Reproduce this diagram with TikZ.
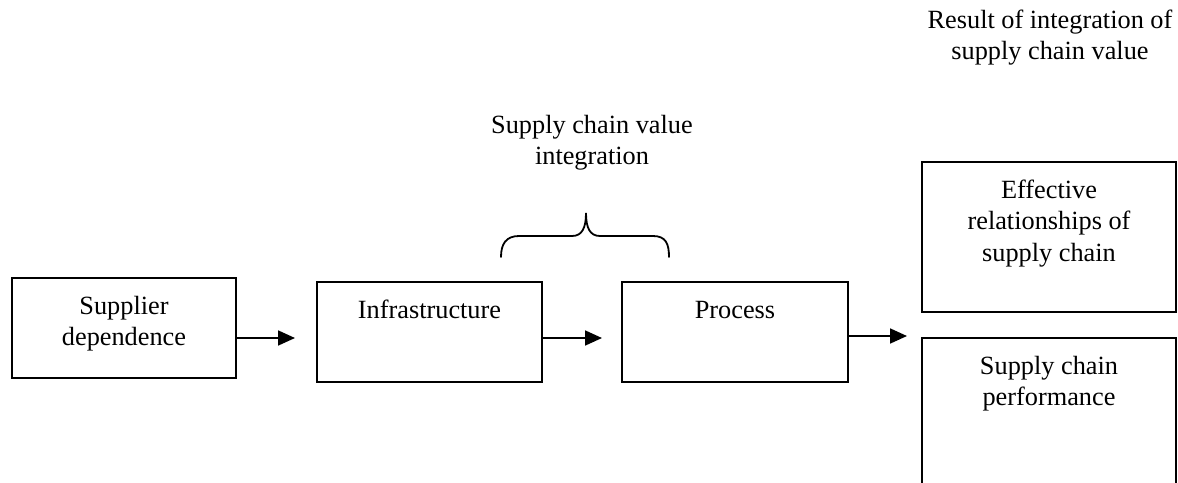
\documentclass[tikz,border=0pt]{standalone}
\usepackage{fontspec}
\setmainfont{Liberation Serif}
\usetikzlibrary{arrows.meta}
\newcommand\boxtxt[3]{\parbox[t][#2][t]{#1}{\centering\rule{0pt}{36pt}#3}}
\newcommand\freetxt[2]{\parbox[t]{#1}{\centering\rule{0pt}{26pt}#2}}
\begin{document}
\begin{tikzpicture}[x=1pt,y=-1pt,
  every node/.style={font=\fontsize{26.3}{31.5}\selectfont, inner sep=0pt, outer sep=0pt},
  stepbox/.style={draw, line width=1.9pt, anchor=north west},
  freelbl/.style={anchor=north},
  conn/.style={line width=1.8pt, -{Triangle[length=17pt,width=15pt]}},
  bracel/.style={line width=1.8pt, line cap=round}]
\useasboundingbox (0,0) rectangle (1178,482);
\clip (0,0) rectangle (1178,482);
\fill[white] (0,0) rectangle (1178,482);

% boxes
\node[stepbox] (b1) at (12,278) {\boxtxt{224pt}{100pt}{Supplier\\dependence}};
\node[stepbox] (b2) at (317,282) {\boxtxt{225pt}{100pt}{Infrastructure}};
\node[stepbox] (b3) at (622,282) {\boxtxt{226pt}{100pt}{Process}};
\node[stepbox] (r1) at (922,162) {\boxtxt{254pt}{150pt}{Effective\\relationships of\\supply chain}};
\node[stepbox] (r2) at (922,338) {\boxtxt{254pt}{170pt}{Supply chain\\performance}};

% free labels
\node[freelbl] (sv) at (592,107) {\freetxt{320pt}{Supply chain value\\integration}};
\node[freelbl] (res) at (1050,2) {\freetxt{300pt}{Result of integration of\\supply chain value}};

% connectors
\coordinate (ya) at (0,338);
\coordinate (t3) at (907,336);
\draw[conn, shorten >=22pt] (b1.east |- ya) -- (b2.west |- ya);
\draw[conn, shorten >=20pt] (b2.east |- ya) -- (b3.west |- ya);
\draw[conn] (b3.east |- t3) -- (t3);

% brace
\draw[bracel] (501,257) .. controls (501,244) and (506,236) .. (519,236)
  -- (572,236) .. controls (582,236) and (586,228) .. (586,213)
  .. controls (586,228) and (590,236) .. (600,236)
  -- (653,236) .. controls (666,236) and (669,244) .. (669,257);
\end{tikzpicture}
\end{document}
